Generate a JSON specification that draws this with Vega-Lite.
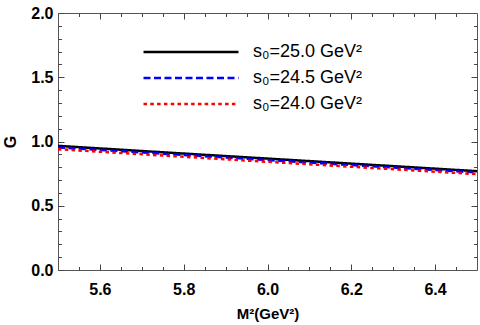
{
  "$schema": "https://vega.github.io/schema/vega-lite/v6.json",
  "width": 419,
  "height": 257,
  "autosize": {"type": "none"},
  "padding": {"left": 58, "top": 13, "right": 3, "bottom": 55},
  "background": "white",
  "config": {
    "view": {"stroke": "#555555", "strokeWidth": 1},
    "font": "Liberation Sans",
    "axis": {"grid": false, "domain": false, "labelFont": "Liberation Sans", "labelFontWeight": "bold", "labelFontSize": 16, "labelColor": "black", "titleFont": "Liberation Sans", "titleFontWeight": "bold", "titleColor": "black", "tickColor": "#444444", "tickWidth": 1},
    "legend": {"padding": 0, "labelFont": "Liberation Sans", "labelFontSize": 18, "labelColor": "black", "symbolType": "M-5,0H5", "symbolSize": 361, "symbolStrokeWidth": 2.5, "symbolFillColor": "transparent", "labelOffset": 51, "rowPadding": 6, "title": null}
  },
  "data": {"values": [
    {"x": 5.5, "G": 0.966, "s": "s₀=25.0 GeV²"},
    {"x": 5.75, "G": 0.916, "s": "s₀=25.0 GeV²"},
    {"x": 6.0, "G": 0.867, "s": "s₀=25.0 GeV²"},
    {"x": 6.25, "G": 0.818, "s": "s₀=25.0 GeV²"},
    {"x": 6.5, "G": 0.769, "s": "s₀=25.0 GeV²"},
    {"x": 5.5, "G": 0.954, "s": "s₀=24.5 GeV²"},
    {"x": 5.75, "G": 0.905, "s": "s₀=24.5 GeV²"},
    {"x": 6.0, "G": 0.856, "s": "s₀=24.5 GeV²"},
    {"x": 6.25, "G": 0.807, "s": "s₀=24.5 GeV²"},
    {"x": 6.5, "G": 0.759, "s": "s₀=24.5 GeV²"},
    {"x": 5.5, "G": 0.940, "s": "s₀=24.0 GeV²"},
    {"x": 5.75, "G": 0.891, "s": "s₀=24.0 GeV²"},
    {"x": 6.0, "G": 0.842, "s": "s₀=24.0 GeV²"},
    {"x": 6.25, "G": 0.794, "s": "s₀=24.0 GeV²"},
    {"x": 6.5, "G": 0.746, "s": "s₀=24.0 GeV²"}
  ]},
  "resolve": {"axis": {"x": "independent", "y": "independent"}},
  "layer": [
    {
      "mark": {"type": "line", "strokeWidth": 2.5, "clip": true},
      "encoding": {
        "x": {"field": "x", "type": "quantitative", "scale": {"domain": [5.5, 6.5], "nice": false, "zero": false},
          "axis": {"orient": "bottom", "title": "M²(GeV²)", "titleFontSize": 15, "titlePadding": 9, "labelPadding": 11,
            "offset": -6, "tickSize": 6, "format": ".1f",
            "values": [5.6, 5.8, 6.0, 6.2, 6.4]}},
        "y": {"field": "G", "type": "quantitative", "scale": {"domain": [0, 2], "nice": false},
          "axis": {"orient": "left", "title": "G", "titleFontSize": 16, "titlePadding": 12, "labelPadding": 5,
            "offset": -6, "tickSize": 6, "format": ".1f",
            "values": [0, 0.5, 1.0, 1.5, 2.0]}},
        "color": {"field": "s", "type": "nominal", "sort": ["s₀=25.0 GeV²", "s₀=24.5 GeV²", "s₀=24.0 GeV²"],
          "scale": {"domain": ["s₀=25.0 GeV²", "s₀=24.5 GeV²", "s₀=24.0 GeV²"], "range": ["#000000", "#0000ff", "#ff0000"]},
          "legend": {"orient": "none", "legendX": 122, "legendY": 28}},
        "strokeDash": {"field": "s", "type": "nominal", "sort": ["s₀=25.0 GeV²", "s₀=24.5 GeV²", "s₀=24.0 GeV²"],
          "scale": {"domain": ["s₀=25.0 GeV²", "s₀=24.5 GeV²", "s₀=24.0 GeV²"], "range": [[1, 0], [7, 3.5], [3.5, 3.3]]},
          "legend": {"orient": "none", "legendX": 122, "legendY": 28}}
      }
    },
    {
      "mark": {"type": "line", "strokeOpacity": 0},
      "encoding": {
        "x": {"field": "x", "type": "quantitative", "scale": {"domain": [5.5, 6.5], "nice": false, "zero": false},
          "axis": {"orient": "bottom", "title": null, "labels": false, "offset": -3.5, "tickSize": 3.5,
            "values": [5.55, 5.65, 5.7, 5.75, 5.85, 5.9, 5.95, 6.05, 6.1, 6.15, 6.25, 6.3, 6.35, 6.45]}},
        "y": {"field": "G", "type": "quantitative", "scale": {"domain": [0, 2], "nice": false},
          "axis": {"orient": "left", "title": null, "labels": false, "offset": -3.5, "tickSize": 3.5,
            "values": [0.1, 0.2, 0.3, 0.4, 0.6, 0.7, 0.8, 0.9, 1.1, 1.2, 1.3, 1.4, 1.6, 1.7, 1.8, 1.9]}},
        "detail": {"field": "s", "type": "nominal"}
      }
    },
    {
      "mark": {"type": "line", "strokeOpacity": 0},
      "encoding": {
        "x": {"field": "x", "type": "quantitative", "scale": {"domain": [5.5, 6.5], "nice": false, "zero": false},
          "axis": {"orient": "top", "title": null, "labels": false, "offset": -6, "tickSize": 6,
            "values": [5.6, 5.8, 6.0, 6.2, 6.4]}},
        "y": {"field": "G", "type": "quantitative", "scale": {"domain": [0, 2], "nice": false},
          "axis": {"orient": "right", "title": null, "labels": false, "offset": -6, "tickSize": 6,
            "values": [0.5, 1.0, 1.5]}},
        "detail": {"field": "s", "type": "nominal"}
      }
    },
    {
      "mark": {"type": "line", "strokeOpacity": 0},
      "encoding": {
        "x": {"field": "x", "type": "quantitative", "scale": {"domain": [5.5, 6.5], "nice": false, "zero": false},
          "axis": {"orient": "top", "title": null, "labels": false, "offset": -3.5, "tickSize": 3.5,
            "values": [5.55, 5.65, 5.7, 5.75, 5.85, 5.9, 5.95, 6.05, 6.1, 6.15, 6.25, 6.3, 6.35, 6.45]}},
        "y": {"field": "G", "type": "quantitative", "scale": {"domain": [0, 2], "nice": false},
          "axis": {"orient": "right", "title": null, "labels": false, "offset": -3.5, "tickSize": 3.5,
            "values": [0.1, 0.2, 0.3, 0.4, 0.6, 0.7, 0.8, 0.9, 1.1, 1.2, 1.3, 1.4, 1.6, 1.7, 1.8, 1.9]}},
        "detail": {"field": "s", "type": "nominal"}
      }
    }
  ]
}
